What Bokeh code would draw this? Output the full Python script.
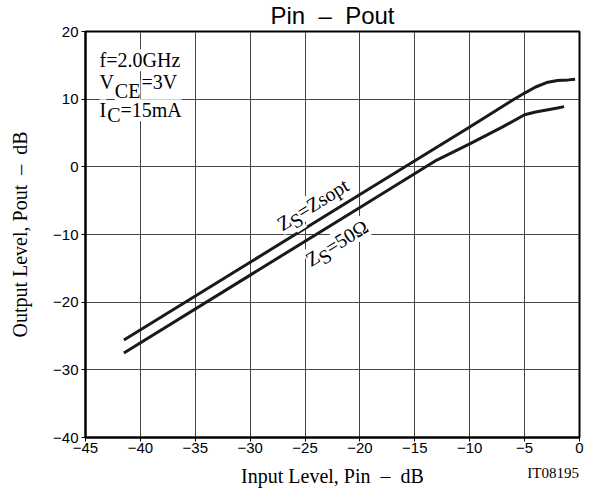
from bokeh.plotting import figure
from bokeh.models import Label, FixedTicker, Range1d, LinearAxis
from bokeh.embed import file_html
from bokeh.resources import INLINE

# ---- data ----
zsopt_x = [-41.5, -30, -20, -10, -6, -5, -4, -3, -2, -1, -0.4]
zsopt_y = [-25.6, -14.1, -4.1, 5.9, 9.95, 10.9, 11.8, 12.45, 12.75, 12.85, 12.95]

z50_x = [-41.5, -30, -20, -13, -10, -7, -5, -4, -3, -2, -1.4]
z50_y = [-27.5, -16.0, -6.0, 1.0, 3.4, 5.9, 7.7, 8.1, 8.4, 8.7, 8.9]

x_ticks = [-45, -40, -35, -30, -25, -20, -15, -10, -5, 0]
x_tick_labels = ["\u221245", "\u221240", "\u221235", "\u221230", "\u221225",
                 "\u221220", "\u221215", "\u221210", "\u22125", "0"]
y_ticks = [-40, -30, -20, -10, 0, 10, 20]
y_tick_labels = ["\u221240", "\u221230", "\u221220", "\u221210", "0", "10", "20"]

SANS = "Liberation Sans"
SERIF = "Liberation Serif"
NB = "\u00a0"

p = figure(
    width=587, height=489,
    min_border_left=85, min_border_right=8, min_border_top=31, min_border_bottom=50,
    x_range=Range1d(-45, 0), y_range=Range1d(-40, 20),
    output_backend="svg", toolbar_location=None,
    title="Pin" + NB * 2 + "\u2013" + NB * 2 + "Pout",
)
p.title.align = "center"
p.title.vertical_align = "top"
p.title.text_font = SANS
p.title.text_font_size = "24px"
p.title.text_font_style = "normal"
p.title.text_color = "black"
p.title.standoff = 1

p.background_fill_color = "white"
p.border_fill_color = "white"
p.outline_line_color = "black"
p.outline_line_width = 2

for ax in (p.xaxis[0], p.yaxis[0]):
    ax.axis_line_color = "black"
    ax.axis_line_width = 2
    ax.major_tick_line_color = "black"
    ax.major_tick_in = 0
    ax.major_tick_out = 4
    ax.minor_tick_line_color = None
    ax.major_label_text_font = SANS
    ax.major_label_text_font_size = "15px"
    ax.major_label_text_color = "black"
    ax.axis_label_text_font = SERIF
    ax.axis_label_text_font_size = "20px"
    ax.axis_label_text_font_style = "normal"
    ax.axis_label_text_color = "black"

p.xaxis.ticker = FixedTicker(ticks=x_ticks)
p.yaxis.ticker = FixedTicker(ticks=y_ticks)
p.xaxis.major_label_overrides = {t: s for t, s in zip(x_ticks, x_tick_labels)}
p.yaxis.major_label_overrides = {t: s for t, s in zip(y_ticks, y_tick_labels)}
p.xaxis.major_label_standoff = 1
p.yaxis.major_label_standoff = 3
p.yaxis.axis_label = "Output Level, Pout" + NB * 2 + "\u2013" + NB * 2 + "dB"
p.yaxis.axis_label_standoff = 19

# second bottom axis: carries the x-axis title and the figure id on one row
id_text = "IT08195"
id_tick = -2.4  # centre of the id text, so that it ends at the right edge
ax2 = LinearAxis(
    ticker=FixedTicker(ticks=[id_tick]),
    major_label_overrides={id_tick: id_text},
    axis_line_color=None, major_tick_line_color=None, minor_tick_line_color=None,
    major_tick_in=0, major_tick_out=0, major_label_standoff=9,
    major_label_text_font=SERIF, major_label_text_font_size="15px",
    major_label_text_color="black",
    axis_label="Input Level, Pin" + NB * 2 + "\u2013" + NB * 2 + "dB",
    axis_label_standoff=-19,
    axis_label_text_font=SERIF, axis_label_text_font_size="20px",
    axis_label_text_font_style="normal", axis_label_text_color="black",
)
p.add_layout(ax2, "below")

p.xgrid.ticker = FixedTicker(ticks=x_ticks)
p.ygrid.ticker = FixedTicker(ticks=y_ticks)
for g in (p.xgrid[0], p.ygrid[0]):
    g.grid_line_color = "#444444"
    g.grid_line_width = 1

p.line(zsopt_x, zsopt_y, line_color="#1a1a1a", line_width=3)
p.line(z50_x, z50_y, line_color="#1a1a1a", line_width=3)


def lab(x, y, text, size="20px", angle=0.0, align="left", font=SERIF, bg="white"):
    p.add_layout(Label(
        x=x, y=y, text=text, angle=angle, text_align=align,
        text_baseline="alphabetic", text_font=font, text_font_size=size,
        text_color="black", background_fill_color=bg,
    ))


# conditions box
lab(-43.72, 15.74, "f=2.0GHz")
lab(-43.72, 12.54, "V")
lab(-42.33, 11.22, "CE")
lab(-39.90, 12.54, "=3V")
lab(-43.72, 8.38, "I")
lab(-43.02, 7.65, "C")
lab(-41.81, 8.38, "=15mA")

# curve labels (rotated along the lines)
ang = 0.5545
lab(-27.39, -8.68, "Z", angle=ang)
lab(-26.21, -8.35, "S", angle=ang)
lab(-25.59, -6.86, "=Zsopt", angle=ang)
lab(-24.80, -13.97, "Z", angle=ang)
lab(-23.62, -13.65, "S", angle=ang)
lab(-23.00, -12.15, "=50\u03a9", angle=ang)

open("out.html", "w").write(file_html(p, INLINE))
